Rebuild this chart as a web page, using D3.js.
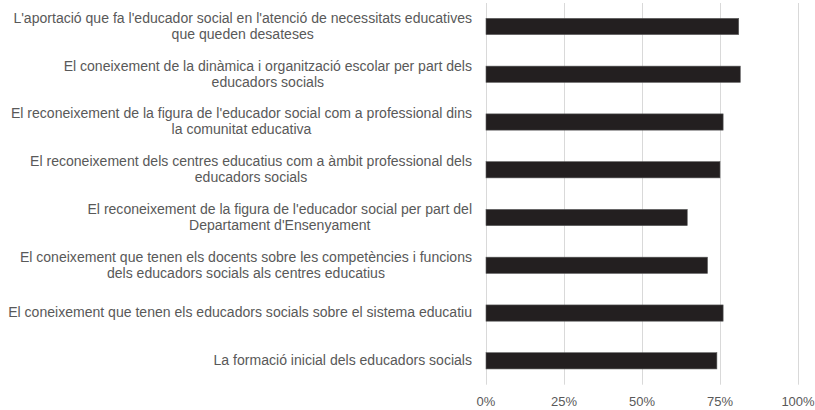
<!DOCTYPE html>
<html><head><meta charset="utf-8">
<script src="https://cdn.jsdelivr.net/npm/d3@7"></script>
<style>body{margin:0;background:#fff}svg{display:block;font-family:"Liberation Sans",Arial,sans-serif}</style>
</head><body><svg id="c" width="815" height="410"></svg>
<script>
const categories = [
  "L'aportació que fa l'educador social en l'atenció de necessitats educatives|que queden desateses",
  "El coneixement de la dinàmica i organització escolar per part dels|educadors socials",
  "El reconeixement de la figura de l'educador social com a professional dins|la comunitat educativa",
  "El reconeixement dels centres educatius com a àmbit professional dels|educadors socials",
  "El reconeixement de la figura de l'educador social per part del|Departament d'Ensenyament",
  "El coneixement que tenen els docents sobre les competències i funcions|dels educadors socials als centres educatius",
  "El coneixement que tenen els educadors socials sobre el sistema educatiu",
  "La formació inicial dels educadors socials"
];
const values = [0.81, 0.815, 0.76, 0.75, 0.645, 0.71, 0.76, 0.74];
const tickValues = [0, 0.25, 0.5, 0.75, 1];

const svg = d3.select("#c");
const x = d3.scaleLinear().domain([0, 1]).range([485.5, 797.5]);
const y = d3.scaleBand().domain(categories).range([2.6, 384.7]).paddingInner(0.66).paddingOuter(0.33);

// gridlines
svg.append("g").selectAll("line").data(tickValues).join("line")
  .attr("x1", d => Math.round(x(d)) + 0.5).attr("x2", d => Math.round(x(d)) + 0.5)
  .attr("y1", 3).attr("y2", 384.7)
  .attr("stroke", "#d9d9d9").attr("stroke-width", 1);

// bars
svg.append("g").selectAll("rect").data(values).join("rect")
  .attr("x", x(0) + 0.5)
  .attr("y", (d, i) => y(categories[i]))
  .attr("width", d => x(d) - x(0))
  .attr("height", y.bandwidth())
  .attr("fill", "#231f20")
  .attr("stroke", "#5a5a5a").attr("stroke-width", 0.6);

// x axis
const ax = svg.append("g").attr("transform", "translate(0,384.7)")
  .call(d3.axisBottom(x).tickValues(tickValues).tickFormat(d3.format(".0%")).tickSize(0).tickPadding(12.5));
ax.select(".domain").remove();
ax.selectAll("text").attr("font-size", 13).attr("fill", "#595959").attr("font-family", "Liberation Sans, Arial, sans-serif");

// category labels
const lg = svg.append("g");
categories.forEach(cat => {
  const lines = cat.split("|");
  const cy = y(cat) + y.bandwidth() / 2;
  const lh = 16;
  const t = lg.append("text").attr("font-size", 14.05).attr("fill", "#595959").attr("text-anchor", "middle");
  const spans = lines.map((l, j) => t.append("tspan").attr("y", cy + (j - (lines.length - 1) / 2) * lh - 0.5).attr("dy", "0.35em").text(l));
  let maxW = 0;
  spans.forEach(s => { maxW = Math.max(maxW, s.node().getComputedTextLength()); });
  const cx = 472 - maxW / 2;
  spans.forEach(s => s.attr("x", cx));
});
</script></body></html>
